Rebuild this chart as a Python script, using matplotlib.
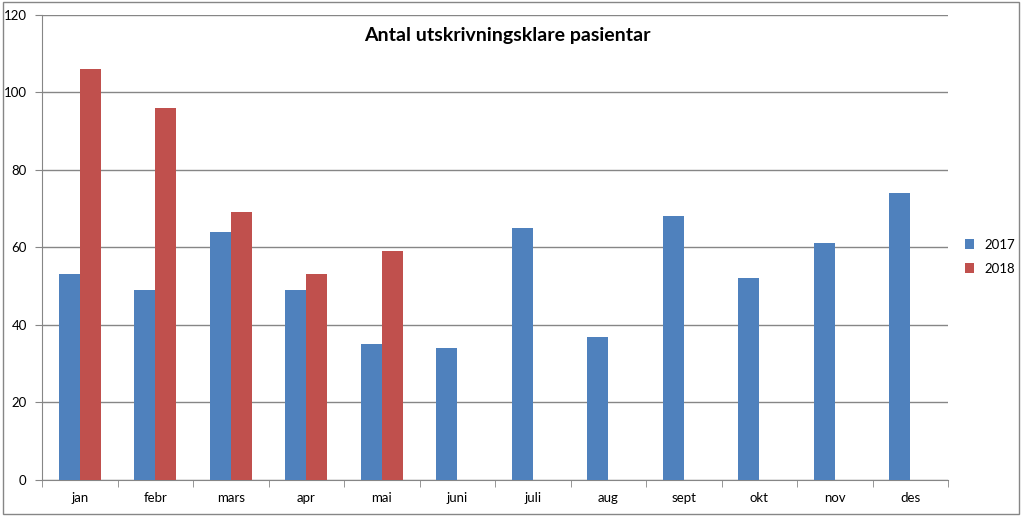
import numpy as np
import matplotlib.pyplot as plt
from matplotlib.patches import Rectangle

# Data
months = ["jan", "febr", "mars", "apr", "mai", "juni", "juli", "aug", "sept", "okt", "nov", "des"]
y2017 = [53, 49, 64, 49, 35, 34, 65, 37, 68, 52, 61, 74]
y2018 = [106, 96, 69, 53, 59]

plt.rcParams['font.family'] = ['Lato', 'DejaVu Sans']

fig = plt.figure(figsize=(10.24, 5.17), dpi=100)
ax = fig.add_axes([0.041, 0.0716, 0.885, 0.9]) 

grey = "#868686"
x = np.arange(len(months))
w = 0.28
ax.bar(x - w / 2, y2017, w, color="#4F81BD", label="2017", zorder=3)
ax.bar(np.arange(len(y2018)) + w / 2, y2018, w, color="#C0504D", label="2018", zorder=3)

ax.set_xlim(-0.5, len(months) - 0.5)
ax.set_ylim(0, 120)
ax.set_yticks(range(0, 121, 20))
ax.yaxis.grid(True, color=grey, linewidth=1, zorder=0)

ax.set_xticks(x)
ax.set_xticklabels(months, fontsize=9.5)
ax.set_xticks(np.arange(-0.5, len(months)), minor=True)
ax.tick_params(axis='x', which='major', length=0, pad=9)
ax.tick_params(axis='x', which='minor', length=5, color=grey, direction='out')
ax.tick_params(axis='y', length=5, color=grey, labelsize=9.5, pad=6)

for s in ['top', 'right']:
    ax.spines[s].set_visible(False)
for s in ['left', 'bottom']:
    ax.spines[s].set_color(grey)

fig.text(507 / 1024, 1 - 35 / 517, "Antal utskrivningsklare pasientar",
         fontsize=14, fontweight='bold', ha='center', va='center')

ax.legend(loc='center left', bbox_to_anchor=(1.005, 0.48), frameon=False,
          fontsize=9.5, handlelength=0.7, handleheight=0.7, labelspacing=0.9)

fig.patches.append(Rectangle((0.003, 0.006), 0.992, 0.99, transform=fig.transFigure,
                             fill=False, edgecolor=grey, linewidth=1))

fig.savefig("out.png", dpi=100)
